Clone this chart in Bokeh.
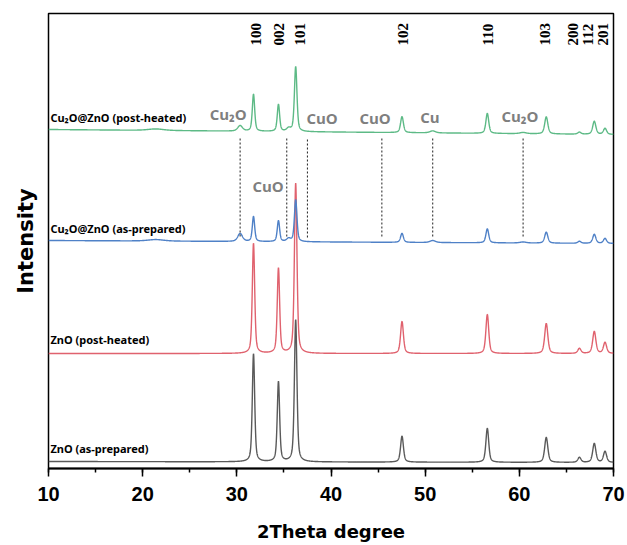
import numpy as np
from bokeh.plotting import figure
from bokeh.models import Range1d, SingleIntervalTicker, Title
from bokeh.core.properties import value
from bokeh.embed import file_html
from bokeh.resources import INLINE

# ---- data ----
zno_pos = [31.77, 34.42, 36.25, 47.54, 56.60, 62.86, 66.38, 67.96, 69.10]
zno_hwhm = [0.15, 0.15, 0.16, 0.18, 0.18, 0.20, 0.20, 0.20, 0.20]
hkl_labels = ["100", "002", "101", "102", "110", "103", "200", "112", "201"]
hkl_label_x = [32.0, 34.5, 36.7, 47.6, 56.7, 62.7, 65.7, 67.3, 68.9]

gray_h = [108, 80, 142, 26, 34, 25, 5, 19, 11]
red_h = [110, 85, 170, 32, 39, 30, 5, 22, 11]
blue_h = [25, 21, 42, 9, 14, 11, 2, 9, 5]
green_h = [37, 27, 65, 16, 20, 17, 2, 13, 6]

minor_pos = [21.4, 30.35, 35.5, 50.8, 60.4]
minor_hwhm = [1.0, 0.30, 0.25, 0.35, 0.40]
gray_minor_h = [0, 0, 0, 0, 0]
red_minor_h = [0, 0, 0, 0, 0]
blue_minor_h = [1.5, 8, 3, 2, 1]
green_minor_h = [1.5, 5.5, 3, 2, 1.2]

# baseline (left end, right end) of each offset pattern
gray_base = [7, 6]
red_base = [115, 115]
blue_base = [228, 225]
green_base = [339, 334]

series_names = ["ZnO (as-prepared)", "ZnO (post-heated)",
                "Cu₂O@ZnO (as-prepared)", "Cu₂O@ZnO (post-heated)"]
series_label_y = [20, 129, 240, 351]
series_colors = ["#5a5a5a", "#e0626e", "#4f81c7", "#5dba86"]

phase_x = [30.35, 35.3, 37.5, 45.4, 50.8, 60.4]
phase_y0 = [232, 232, 231, 232, 232, 232]
phase_y1 = [331, 331, 330, 330, 331, 331]
phase_text = ["Cu₂O", "CuO", "CuO", "CuO", "Cu", "Cu₂O"]
phase_text_x = [29.08, 33.32, 39.05, 44.68, 50.5, 60.06]
phase_text_y = [355, 283, 351, 351, 352, 353]

# ---- figure ----
p = figure(width=627, height=545, output_backend="svg", toolbar_location=None,
           x_range=Range1d(10, 70), y_range=Range1d(0, 455),
           min_border_left=48, min_border_right=14, min_border_top=13,
           min_border_bottom=77)
p.grid.visible = False
p.yaxis.visible = False
p.outline_line_color = "black"
p.outline_line_width = 1.5
p.outline_line_alpha = 1

ax = p.xaxis[0]
ax.ticker = SingleIntervalTicker(interval=10, num_minor_ticks=2)
ax.axis_line_width = 2
ax.major_tick_in = 0
ax.major_tick_out = 8
ax.minor_tick_in = 0
ax.minor_tick_out = 4
ax.major_tick_line_width = 1.5
ax.minor_tick_line_width = 1.5
ax.major_label_text_font = "Liberation Sans"
ax.major_label_text_font_style = "bold"
ax.major_label_text_font_size = "20px"
ax.major_label_text_color = "black"
ax.major_label_standoff = 10
ax.axis_label = "2Theta degree"
ax.axis_label_text_font = "DejaVu Sans"
ax.axis_label_text_font_style = "bold"
ax.axis_label_text_font_size = "18px"
ax.axis_label_text_color = "black"
ax.axis_label_standoff = 17

p.add_layout(Title(text="Intensity", align="center", text_font="DejaVu Sans",
                   text_font_style="bold", text_font_size="21px",
                   text_color="black", standoff=21), "left")

x = np.linspace(10, 70, 4001)


def pattern(base, heights, minor_heights):
    y = base[0] + (base[1] - base[0]) * (x - 10) / 60.0
    for c, w, h in zip(zno_pos + minor_pos, zno_hwhm + minor_hwhm,
                       list(heights) + list(minor_heights)):
        lor = 1.0 / (1.0 + ((x - c) / w) ** 2)
        gau = np.exp(-np.log(2) * ((x - c) / w) ** 2)
        y = y + h * (0.5 * lor + 0.5 * gau)
    return y


all_series = [(gray_base, gray_h, gray_minor_h),
              (red_base, red_h, red_minor_h),
              (blue_base, blue_h, blue_minor_h),
              (green_base, green_h, green_minor_h)]

for (b, h, mh), col in zip(all_series, series_colors):
    p.line(x, pattern(b, h, mh), line_color=col, line_width=1.4)

# dashed reference lines
p.segment(x0=phase_x, y0=phase_y0, x1=phase_x, y1=phase_y1,
          line_color="#333333", line_width=1.1, line_dash="2 2")

# phase labels
p.text(x=phase_text_x, y=phase_text_y, text=phase_text,
       text_font=value("Open Sans"), text_font_style="bold",
       text_font_size="15px", text_color="#7f7f7f",
       text_align="center", text_baseline="middle")

# series labels
p.text(x=[10.2] * 4, y=series_label_y, text=series_names,
       text_font=value("Noto Sans"), text_font_style="bold",
       text_font_size="11px", text_color="black",
       text_align="left", text_baseline="middle")

# hkl labels
p.text(x=hkl_label_x, y=[423] * len(hkl_labels), text=hkl_labels,
       angle=np.pi / 2, text_font=value("Liberation Serif"),
       text_font_style="bold", text_font_size="15px", text_color="black",
       text_align="left", text_baseline="middle")

open("out.html", "w").write(file_html(p, INLINE))
